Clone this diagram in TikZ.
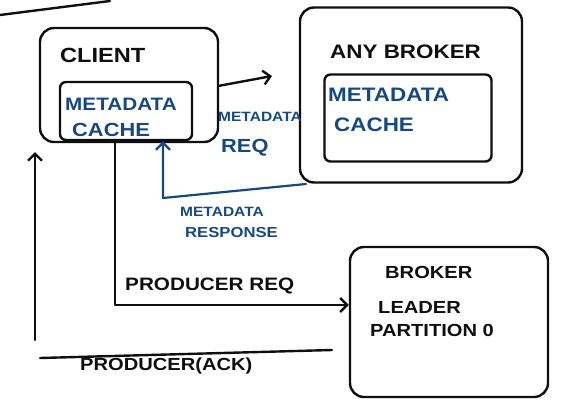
\documentclass[tikz,border=0pt]{standalone}
\usepackage{fontspec}
\setmainfont{Liberation Sans}
\newfontfamily\handfont[FakeStretch=1.15]{Liberation Sans Bold}
\usetikzlibrary{arrows.meta}
\definecolor{ink}{RGB}{15,15,15}
\definecolor{bluepen}{RGB}{22,72,132}
\newcommand{\fs}[1]{\handfont\fontsize{#1}{#1}\selectfont}
\begin{document}
\begin{tikzpicture}[x=1pt,y=-1pt,
  box/.style={draw=ink,line width=2.4pt,rounded corners=14pt,inner sep=0pt},
  cachebox/.style={draw=ink,line width=2.4pt,rounded corners=6pt,inner sep=0pt},
  pen/.style={draw=ink,line width=2.4pt,line cap=round,line join=round},
  bpen/.style={draw=bluepen,line width=2.2pt,line cap=round,line join=round},
  tip/.style={-{Straight Barb[length=7pt,width=14pt]}},
  blk/.style={text=ink,inner sep=0pt,anchor=west},
  blu/.style={text=bluepen,inner sep=0pt,anchor=west}]
\useasboundingbox (0,0) rectangle (577,412);
% stray stroke
\coordinate (s1) at (0,15); \coordinate (s2) at (110,1);
\draw[pen] (s1) -- (s2);
% boxes
\node[box,minimum width=178pt,minimum height=114pt] (client) at (129,85) {};
\node[cachebox,minimum width=132pt,minimum height=58pt] (ccache) at (126,111) {};
\node[box,minimum width=222pt,minimum height=175pt] (broker) at (411,95) {};
\node[cachebox,minimum width=167pt,minimum height=87pt] (bcache) at (408,118) {};
\node[box,minimum width=198pt,minimum height=150pt] (leader) at (449,322) {};
% texts
\node[blk,font=\fs{20.5}] (tclient) at (60,55) {CLIENT};
\node[blu,font=\fs{18}] (tcc1) at (65,104) {METADATA};
\node[blu,font=\fs{19}] (tcc2) at (72,130) {CACHE};
\node[blk,font=\fs{19.5}] (tbroker) at (330,52) {ANY BROKER};
\node[blu,font=\fs{19.5}] (tbc1) at (328,95) {METADATA};
\node[blu,font=\fs{19.5}] (tbc2) at (334,125) {CACHE};
\node[blu,font=\fs{13.5}] (treq1) at (218,117) {METADATA};
\node[blu,font=\fs{19}] (treq2) at (221,148) {REQ};
\node[blu,font=\fs{13.5}] (tresp1) at (180,212) {METADATA};
\node[blu,font=\fs{14.5}] (tresp2) at (185,233) {RESPONSE};
\node[blk,font=\fs{18}] (tpreq) at (125,286) {PRODUCER REQ};
\node[blk,font=\fs{17.5}] (tl1) at (385,272) {BROKER};
\node[blk,font=\fs{17.5}] (tl2) at (378,307) {LEADER};
\node[blk,font=\fs{17.5}] (tl3) at (370,330) {PARTITION 0};
\node[blk,font=\fs{17.5}] (tack) at (80,366) {PRODUCER(ACK)};
% metadata request arrow
\coordinate (r1) at (218,86); \coordinate (r2) at (272,76);
\draw[pen,tip] (r1) -- (r2);
% metadata response
\coordinate (b1) at (306,184); \coordinate (b2) at (163,198);
\draw[bpen,-{Straight Barb[length=7pt,width=14pt]}] (b1) -- (b2) -- (b2 |- ccache.south);
% producer request
\coordinate (p1) at (115,305);
\draw[pen,tip] (ccache.south -| p1) -- (p1) -- (p1 -| leader.west);
% ack
\coordinate (a1) at (332,350); \coordinate (a2) at (40,358);
\coordinate (a3) at (35,340); \coordinate (a4) at (35,152);
\draw[pen] (a1) -- (a2);
\draw[pen,tip] (a3) -- (a4);
\end{tikzpicture}
\end{document}
